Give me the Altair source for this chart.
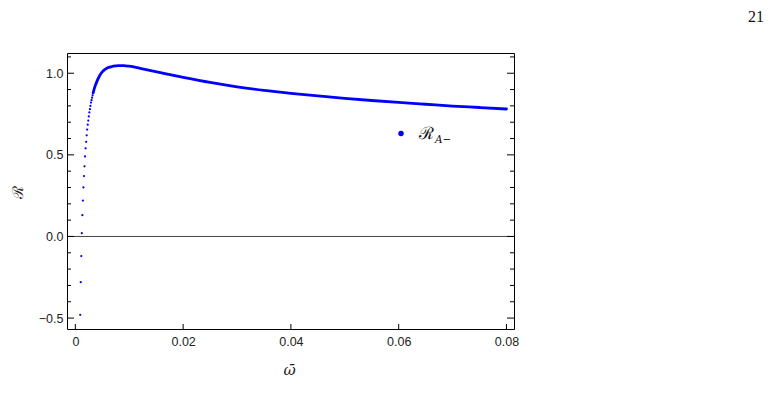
import altair as alt
import pandas as pd

# ---- data ----
sparse_x = [0.0009, 0.0010, 0.0011, 0.0012, 0.0013, 0.0014, 0.0015, 0.0016, 0.0017,
            0.0018, 0.0019, 0.0020, 0.0021, 0.0022, 0.0023, 0.0024, 0.0025, 0.0026, 0.0027,
            0.0028, 0.0029, 0.0030, 0.0031, 0.0032, 0.0033]
sparse_y = [-0.48, -0.28, -0.12, 0.02, 0.13, 0.22, 0.30, 0.37, 0.43,
            0.49, 0.54, 0.58, 0.62, 0.655, 0.685, 0.71, 0.735, 0.76, 0.78,
            0.80, 0.82, 0.835, 0.85, 0.865, 0.88]

dense_x = [0.0033, 0.0036, 0.0040, 0.0045, 0.0050, 0.0055, 0.0060,
           0.0070, 0.0080, 0.0090, 0.0100, 0.0120, 0.0140, 0.0160, 0.0180, 0.0200,
           0.0250, 0.0300, 0.0350, 0.0400, 0.0450, 0.0500, 0.0550, 0.0600, 0.0650,
           0.0700, 0.0750, 0.0800]
dense_y = [0.88, 0.915, 0.95, 0.985, 1.008, 1.023, 1.033,
           1.043, 1.047, 1.047, 1.043, 1.030, 1.016, 1.002, 0.988, 0.975,
           0.944, 0.917, 0.895, 0.877, 0.861, 0.846, 0.833, 0.821, 0.810,
           0.799, 0.790, 0.781]

x_major = [0.0, 0.02, 0.04, 0.06, 0.08]
y_major = [-0.5, 0.0, 0.5, 1.0]
y_minor = [-0.4, -0.3, -0.2, -0.1, 0.1, 0.2, 0.3, 0.4, 0.6, 0.7, 0.8, 0.9, 1.1]

x_title = "ω\u0304"
y_title = "ℛ"
legend_main = "ℛ"
legend_sub = "A\u2212"
page_number = "21"

BLUE = "#0000ff"
W, H = 447, 276

df_sparse = pd.DataFrame({"x": sparse_x, "y": sparse_y})
df_dense = pd.DataFrame({"x": dense_x, "y": dense_y})
df_xmaj = pd.DataFrame({"x": x_major})
df_ymaj = pd.DataFrame({"y": y_major})
df_ymin = pd.DataFrame({"y": y_minor})
df_zero = pd.DataFrame({"y": [0.0]})
df_one = pd.DataFrame({"k": [0]})

x_scale = alt.Scale(domain=[-0.00155, 0.0814], nice=False, zero=False)
y_scale = alt.Scale(domain=[-0.567, 1.124], nice=False, zero=False)

x_axis = alt.Axis(values=x_major, format=".2~f", grid=False, ticks=False, domain=False,
                  labelFont="Liberation Sans", labelFontSize=12.5, labelColor="#222",
                  labelPadding=6, title=x_title, titleFont="DejaVu Serif",
                  titleFontStyle="italic", titleFontWeight="normal", titleFontSize=15,
                  titleColor="#222", titleX=222, titleY=40, titleAlign="center",
                  titleBaseline="middle")
y_axis = alt.Axis(values=y_major, format=".1f", grid=False, ticks=False, domain=False,
                  labelFont="Liberation Sans", labelFontSize=12.5, labelColor="#222",
                  labelPadding=4, title=y_title, titleFont="DejaVu Serif",
                  titleFontWeight="normal", titleFontSize=15, titleColor="#222",
                  titleX=-50, titleY=139, titleAngle=270, titleAlign="center",
                  titleBaseline="middle")

points = alt.Chart(df_sparse).mark_circle(size=5, color=BLUE, opacity=1).encode(
    x=alt.X("x:Q", scale=x_scale, axis=x_axis),
    y=alt.Y("y:Q", scale=y_scale, axis=y_axis),
)
line = alt.Chart(df_dense).mark_line(color=BLUE, strokeWidth=2.8, interpolate="monotone",
                                     strokeCap="round").encode(
    x=alt.X("x:Q"), y=alt.Y("y:Q"))

zero = alt.Chart(df_zero).mark_rule(color="#444", strokeWidth=1).encode(y="y:Q")

lmaj = alt.Chart(df_ymaj).mark_rule(color="black", strokeWidth=1).encode(
    y="y:Q", x=alt.value(0), x2=alt.value(7))
lmin = alt.Chart(df_ymin).mark_rule(color="black", strokeWidth=1).encode(
    y="y:Q", x=alt.value(0), x2=alt.value(4))
rmaj = alt.Chart(df_ymaj).mark_rule(color="black", strokeWidth=1).encode(
    y="y:Q", x=alt.value(W - 7), x2=alt.value(W))
rmin = alt.Chart(df_ymin).mark_rule(color="black", strokeWidth=1).encode(
    y="y:Q", x=alt.value(W - 4), x2=alt.value(W))
bmaj = alt.Chart(df_xmaj).mark_rule(color="black", strokeWidth=1).encode(
    x="x:Q", y=alt.value(H - 5), y2=alt.value(H))

leg_dot = alt.Chart(df_one).mark_circle(size=30, color=BLUE, opacity=1).encode(
    x=alt.value(334), y=alt.value(80.5))
leg_main = alt.Chart(df_one).mark_text(text=legend_main, font="DejaVu Serif", fontSize=17,
                                      align="left", baseline="middle", color="#111").encode(
    x=alt.value(352), y=alt.value(81))
leg_sub = alt.Chart(df_one).mark_text(text=legend_sub, font="DejaVu Serif", fontSize=10.5,
                                     fontStyle="italic", align="left", baseline="middle",
                                     color="#111").encode(
    x=alt.value(368), y=alt.value(86.5))
page = alt.Chart(df_one).mark_text(text=page_number, font="Liberation Serif", fontSize=16,
                                  align="right", baseline="alphabetic", color="#111").encode(
    x=alt.value(697), y=alt.value(-31))

chart = alt.layer(zero, line, points, lmaj, lmin, rmaj, rmin, bmaj,
                  leg_dot, leg_main, leg_sub, page).properties(
    width=W, height=H,
    autosize=alt.AutoSizeParams(type="none"),
    padding={"left": 59, "top": 45, "right": 253, "bottom": 70},
    background="white",
).configure_view(stroke="black", strokeWidth=1)

chart.save("out.html", embed_options={"renderer": "svg", "actions": False})
